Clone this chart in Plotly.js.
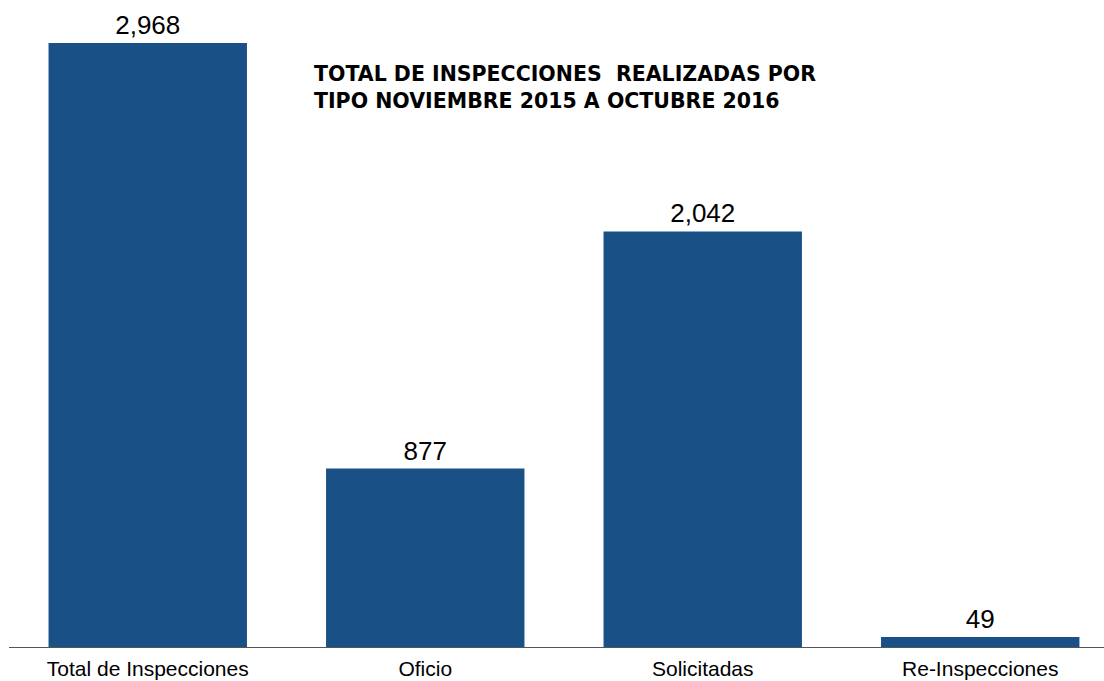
<!DOCTYPE html>
<html>
<head>
<meta charset="utf-8">
<script src="https://cdn.plot.ly/plotly-3.0.1.min.js"></script>
<style>
  body { margin: 0; background: #fff; }
  #chart { width: 1104px; height: 681px; }
</style>
</head>
<body>
<div id="chart"></div>
<script>
const categories = ["Total de Inspecciones", "Oficio", "Solicitadas", "Re-Inspecciones"];
const inspecciones = [2968, 877, 2042, 49];
const chartTitle = "TOTAL DE INSPECCIONES&nbsp; REALIZADAS POR<br>TIPO NOVIEMBRE 2015 A OCTUBRE 2016";

const trace = {
    type: 'bar',
    x: categories,
    y: inspecciones,
    marker: { color: '#195186' },
    text: inspecciones.map(v => v.toLocaleString('en-US')),
    textposition: 'outside',
    textfont: { family: 'Liberation Sans, Arial, sans-serif', size: 26, color: '#000' },
    cliponaxis: false,
    hoverinfo: 'x+y'
};

const layout = {
    width: 1104,
    height: 681,
    margin: { l: 9, r: 0, t: 0, b: 34 },
    paper_bgcolor: '#fff',
    plot_bgcolor: '#fff',
    bargap: 0.285,
    showlegend: false,
    xaxis: {
        range: [-0.5, 3.446],
        showline: true,
        linecolor: '#555',
        linewidth: 1,
        ticks: '',
        ticklabelstandoff: 3,
        showgrid: false,
        tickfont: { family: 'Liberation Sans, Arial, sans-serif', size: 21, color: '#000' }
    },
    yaxis: {
        range: [0, 3179],
        visible: false,
        showgrid: false,
        zeroline: false
    },
    annotations: [{
        xref: 'paper', yref: 'paper',
        x: (312 - 9) / 1095, y: (647 - 60) / 647,
        xanchor: 'left', yanchor: 'top', align: 'left',
        showarrow: false,
        text: '<b>' + chartTitle + '</b>',
        font: { family: 'DejaVu Sans, Verdana, sans-serif', size: 20.5, color: '#000' }
    }]
};

Plotly.newPlot('chart', [trace], layout, { displayModeBar: false, staticPlot: true });
</script>
</body>
</html>
